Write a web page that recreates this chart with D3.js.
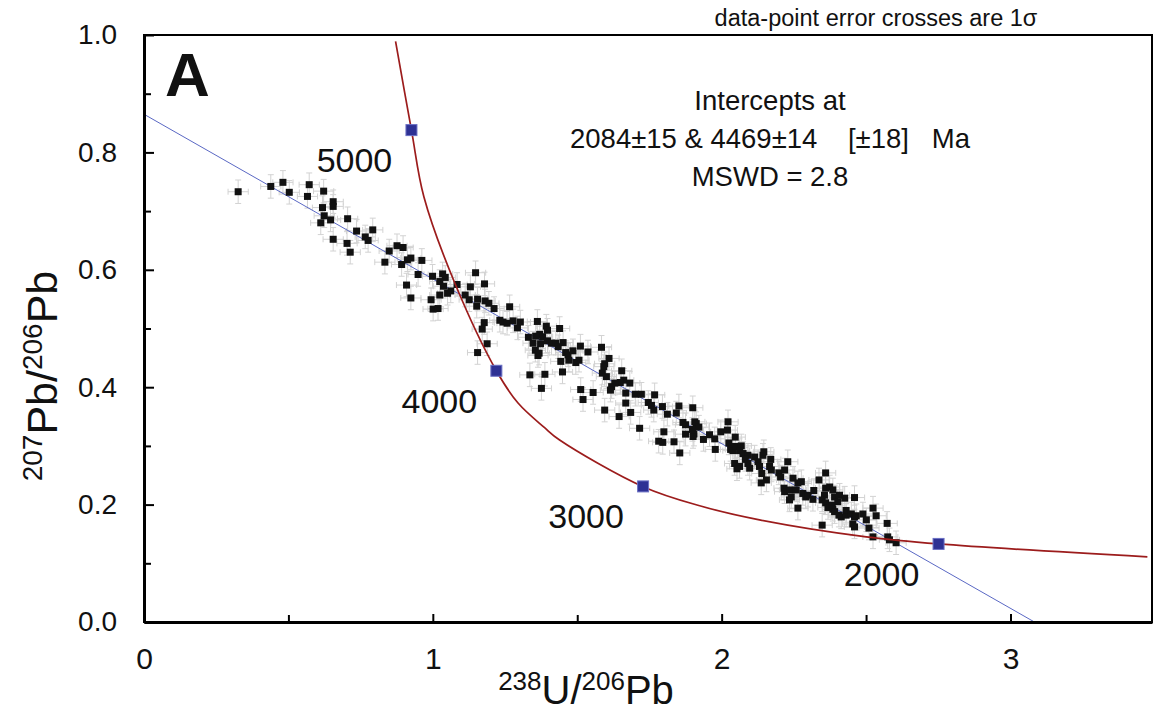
<!DOCTYPE html>
<html>
<head>
<meta charset="utf-8">
<script src="https://cdn.jsdelivr.net/npm/d3@7"></script>
<style>
  body { margin: 0; background: #fff; }
  #chart text { font-family: "Liberation Sans", Arial, sans-serif; fill: #111; }
</style>
</head>
<body>
<div id="chart"></div>
<script>
// 238U/206Pb of each spot
const u238pb206 = [
  0.326, 0.439, 0.481, 0.503, 0.572, 0.566, 0.622, 0.655, 0.655, 0.618, 0.624, 0.612, 0.646, 0.705, 0.736, 0.792,
  0.766, 0.776, 0.655, 0.703, 0.714, 0.849, 0.876, 0.834,
  0.897, 0.892, 0.912, 0.924, 0.962, 0.949, 0.999, 0.909, 0.924, 1.034, 1.043, 1.024, 1.037, 1.084, 1.062, 1.051,
  1.024, 0.994, 1.001, 1.018, 1.148, 1.179, 1.130, 1.112, 1.126, 1.155, 1.152, 1.181, 1.194, 1.212, 1.266, 1.232,
  1.243, 1.257, 1.278, 1.293, 1.178, 1.171, 1.188, 1.155,
  1.303, 1.362, 1.393, 1.397, 1.370, 1.380, 1.356, 1.331, 1.439, 1.347, 1.373, 1.397, 1.411, 1.426, 1.451, 1.355,
  1.368, 1.364, 1.434, 1.460, 1.468, 1.485, 1.511, 1.443, 1.471, 1.495, 1.506, 1.537, 1.336, 1.388, 1.449, 1.376,
  1.512, 1.555, 1.520,
  1.584, 1.610, 1.595, 1.592, 1.587, 1.601, 1.654, 1.661, 1.649, 1.630, 1.619, 1.615, 1.682, 1.668, 1.701, 1.722,
  1.768, 1.746, 1.757, 1.668, 1.795, 1.765, 1.595, 1.685, 1.645, 1.812, 1.852, 1.843, 1.900, 1.866, 1.875, 1.907,
  1.912, 1.921, 1.899, 1.904, 1.901, 1.875, 1.716, 1.800, 1.782, 1.796, 1.835, 1.855,
  1.937, 1.958, 1.976, 1.997, 2.022, 2.020, 2.047, 1.978, 2.025, 2.031, 2.039, 2.048, 2.068, 2.062, 2.074, 2.091,
  2.114, 2.045, 2.062, 2.053, 2.082, 2.091, 2.097, 2.126, 2.131, 2.143, 2.146, 2.170, 2.139, 2.155, 2.137, 2.166,
  2.172, 2.198, 2.204, 2.218, 2.229, 2.247, 2.264, 2.216, 2.218, 2.235, 2.241, 2.235, 2.258, 2.264, 2.276, 2.281,
  2.291, 2.299, 2.316, 2.319, 2.337, 2.360, 2.356, 2.348, 2.360, 2.368, 2.348, 2.360, 2.374, 2.385, 2.391, 2.402,
  2.408, 2.426, 2.383, 2.385, 2.391, 2.406, 2.414, 2.431, 2.460, 2.431, 2.449, 2.460, 2.466, 2.489, 2.501, 2.524,
  2.535, 2.454, 2.460, 2.510, 2.524, 2.573, 2.575, 2.581, 2.604
];
// 207Pb/206Pb of each spot
const pb207pb206 = [
  0.733, 0.742, 0.749, 0.732, 0.745, 0.725, 0.734, 0.716, 0.708, 0.706, 0.692, 0.680, 0.685, 0.687, 0.666, 0.668,
  0.656, 0.650, 0.652, 0.645, 0.630, 0.632, 0.641, 0.613,
  0.638, 0.609, 0.617, 0.620, 0.616, 0.592, 0.589, 0.574, 0.552, 0.593, 0.587, 0.580, 0.572, 0.575, 0.564, 0.560,
  0.557, 0.549, 0.533, 0.534, 0.595, 0.576, 0.571, 0.557, 0.549, 0.550, 0.538, 0.547, 0.543, 0.534, 0.537, 0.514,
  0.511, 0.509, 0.513, 0.501, 0.510, 0.499, 0.474, 0.459,
  0.511, 0.512, 0.504, 0.497, 0.490, 0.486, 0.487, 0.485, 0.500, 0.475, 0.474, 0.479, 0.475, 0.475, 0.476, 0.463,
  0.458, 0.454, 0.469, 0.459, 0.455, 0.462, 0.470, 0.444, 0.446, 0.442, 0.446, 0.460, 0.421, 0.422, 0.426, 0.398,
  0.396, 0.391, 0.379,
  0.468, 0.449, 0.440, 0.435, 0.424, 0.418, 0.428, 0.412, 0.408, 0.407, 0.401, 0.395, 0.407, 0.390, 0.388, 0.388,
  0.387, 0.374, 0.369, 0.373, 0.367, 0.361, 0.361, 0.357, 0.350, 0.354, 0.368, 0.356, 0.365, 0.340, 0.336, 0.341,
  0.338, 0.332, 0.328, 0.320, 0.316, 0.320, 0.330, 0.324, 0.308, 0.306, 0.307, 0.288,
  0.311, 0.319, 0.312, 0.324, 0.341, 0.327, 0.315, 0.294, 0.305, 0.294, 0.292, 0.299, 0.300, 0.292, 0.287, 0.284,
  0.281, 0.270, 0.265, 0.261, 0.277, 0.270, 0.262, 0.273, 0.265, 0.284, 0.290, 0.277, 0.253, 0.242, 0.237, 0.265,
  0.259, 0.254, 0.247, 0.259, 0.273, 0.245, 0.237, 0.228, 0.222, 0.225, 0.213, 0.208, 0.225, 0.194, 0.239, 0.219,
  0.213, 0.216, 0.209, 0.224, 0.242, 0.254, 0.216, 0.208, 0.203, 0.195, 0.165, 0.228, 0.230, 0.225, 0.213, 0.205,
  0.216, 0.211, 0.199, 0.192, 0.188, 0.182, 0.179, 0.182, 0.212, 0.190, 0.184, 0.179, 0.181, 0.184, 0.174, 0.194,
  0.181, 0.167, 0.162, 0.160, 0.145, 0.168, 0.145, 0.140, 0.135
];
// 1 sigma error of the spots
const sigmaU = 0.035;
const sigmaPb = 0.02;

// concordia curve
const concordiaX = [0.871, 0.926, 0.969, 1.076, 1.220, 1.295, 1.387, 1.439, 1.728, 1.924, 2.131, 2.501, 2.751, 3.474];
const concordiaY = [0.989, 0.838, 0.7245, 0.5775, 0.428, 0.373, 0.331, 0.310, 0.2305, 0.198, 0.174, 0.145, 0.133, 0.111];

// age markers on the concordia (Ma)
const ages = [5000, 4000, 3000, 2000];
const ageX = [0.926, 1.220, 1.728, 2.751];
const ageY = [0.838, 0.428, 0.231, 0.133];

// discordia regression line end points
const discordiaX = [0, 3.083];
const discordiaY = [0.865, 0];

const xTicks = [0, 1, 2, 3];
const xMinorTicks = [0.5, 1.5, 2.5];
const yTicks = [0, 0.2, 0.4, 0.6, 0.8, 1.0];
const yMinorTicks = [0.1, 0.3, 0.5, 0.7, 0.9];

const resultLines = ["Intercepts at", "2084\u00b115 & 4469\u00b114    [\u00b118]   Ma", "MSWD = 2.8"];

function main(){
  const margin = {top: 35, right: 4, bottom: 89, left: 144};
  const width = 1156 - margin.left - margin.right;
  const height = 711 - margin.top - margin.bottom;

  const svg = d3.select("#chart")
      .append("svg")
      .attr("width", width + margin.left + margin.right)
      .attr("height", height + margin.top + margin.bottom)
      .append("g")
      .attr("transform", `translate(${margin.left}, ${margin.top})`);

  const x = d3.scaleLinear().domain([0, 3.49]).range([0, width]);
  const y = d3.scaleLinear().domain([0, 1]).range([height, 0]);

  svg.append("clipPath").attr("id", "plotclip")
    .append("rect").attr("width", width).attr("height", height);

  const plot = svg.append("g").attr("clip-path", "url(#plotclip)");

  const spots = d3.zip(u238pb206, pb207pb206);

  // error crosses
  const cross = plot.append("g")
      .attr("stroke", "#d2d2d2")
      .attr("stroke-width", 1)
      .attr("fill", "none");
  cross.selectAll("path")
    .data(spots)
    .join("path")
    .attr("d", d => {
      const cx = x(d[0]), cy = y(d[1]);
      const x0 = x(d[0] - sigmaU), x1 = x(d[0] + sigmaU);
      const y0 = y(d[1] - sigmaPb), y1 = y(d[1] + sigmaPb);
      return `M${x0},${cy}H${x1}M${x0},${cy-3}V${cy+3}M${x1},${cy-3}V${cy+3}` +
             `M${cx},${y0}V${y1}M${cx-3},${y0}H${cx+3}M${cx-3},${y1}H${cx+3}`;
    });

  // discordia
  plot.append("path")
    .datum(d3.zip(discordiaX, discordiaY))
    .attr("fill", "none")
    .attr("stroke", "#5a68c4")
    .attr("stroke-width", 1)
    .attr("d", d3.line().x(d => x(d[0])).y(d => y(d[1])));

  // spots
  plot.append("g")
    .selectAll("rect")
    .data(spots)
    .join("rect")
    .attr("x", d => x(d[0]) - 3.5)
    .attr("y", d => y(d[1]) - 3.5)
    .attr("width", 7)
    .attr("height", 7)
    .attr("fill", "#111");

  // concordia
  plot.append("path")
    .datum(d3.zip(concordiaX, concordiaY))
    .attr("fill", "none")
    .attr("stroke", "#9c1c1c")
    .attr("stroke-width", 1.7)
    .attr("d", d3.line().x(d => x(d[0])).y(d => y(d[1])).curve(d3.curveCatmullRom.alpha(0.5)));

  // age markers
  const ageData = ages.map((a, i) => ({age: a, u: ageX[i], pb: ageY[i]}));
  plot.append("g")
    .selectAll("rect")
    .data(ageData)
    .join("rect")
    .attr("x", d => x(d.u) - 5.5)
    .attr("y", d => y(d.pb) - 5.5)
    .attr("width", 11)
    .attr("height", 11)
    .attr("fill", "#2e3194")
    .attr("stroke", "#6b70c4")
    .attr("stroke-width", 1);

  svg.append("g")
    .selectAll("text")
    .data(ageData)
    .join("text")
    .attr("x", d => x(d.u) - 57)
    .attr("y", d => y(d.pb) + 42)
    .attr("text-anchor", "middle")
    .attr("font-size", 34)
    .text(d => d.age);

  // frame
  svg.append("rect")
    .attr("width", width)
    .attr("height", height)
    .attr("fill", "none")
    .attr("stroke", "#000")
    .attr("stroke-width", 2);

  // axes, ticks pointing inward
  const yAxis = svg.append("g")
    .call(d3.axisLeft(y).tickValues(yTicks).tickSize(-10).tickSizeOuter(0)
          .tickPadding(27).tickFormat(d3.format(".1f")));
  yAxis.selectAll("text").attr("font-size", 28);
  svg.append("g")
    .call(d3.axisLeft(y).tickValues(yMinorTicks).tickSize(-7).tickFormat(""))
    .select(".domain").remove();

  const xAxis = svg.append("g")
    .attr("transform", `translate(0, ${height})`)
    .call(d3.axisBottom(x).tickValues(xTicks).tickSize(-8).tickSizeOuter(0)
          .tickPadding(26).tickFormat(d3.format("d")));
  xAxis.selectAll("text").attr("font-size", 30);
  svg.append("g")
    .attr("transform", `translate(0, ${height})`)
    .call(d3.axisBottom(x).tickValues(xMinorTicks).tickSize(-7).tickFormat(""))
    .select(".domain").remove();

  svg.selectAll(".domain").attr("stroke-width", 3);
  svg.selectAll(".tick line").attr("stroke-width", 2);

  // axis titles
  const xt = svg.append("text")
    .attr("x", 442)
    .attr("y", 669)
    .attr("text-anchor", "middle");
  xt.append("tspan").attr("font-size", 26).attr("dy", -14).text("238");
  xt.append("tspan").attr("font-size", 40).attr("dy", 14).text("U/");
  xt.append("tspan").attr("font-size", 26).attr("dy", -14).text("206");
  xt.append("tspan").attr("font-size", 40).attr("dy", 14).text("Pb");

  const yt = svg.append("text")
    .attr("transform", `translate(-87, 341) rotate(-90)`)
    .attr("text-anchor", "middle");
  yt.append("tspan").attr("font-size", 28).attr("dy", -15).text("207");
  yt.append("tspan").attr("font-size", 43).attr("dy", 15).text("Pb/");
  yt.append("tspan").attr("font-size", 28).attr("dy", -15).text("206");
  yt.append("tspan").attr("font-size", 43).attr("dy", 15).text("Pb");

  // annotations
  svg.append("text")
    .attr("x", 21)
    .attr("y", 61)
    .attr("font-size", 62)
    .attr("font-weight", "bold")
    .text("A");

  svg.append("text")
    .attr("x", 732)
    .attr("y", -9)
    .attr("text-anchor", "middle")
    .attr("font-size", 23.5)
    .text("data-point error crosses are 1\u03c3");

  svg.append("g")
    .selectAll("text")
    .data(resultLines)
    .join("text")
    .attr("x", 626)
    .attr("y", (d, i) => 75 + i * 38)
    .attr("text-anchor", "middle")
    .attr("font-size", 27.5)
    .style("white-space", "pre")
    .text(d => d);
}

main();
</script>
</body>
</html>
